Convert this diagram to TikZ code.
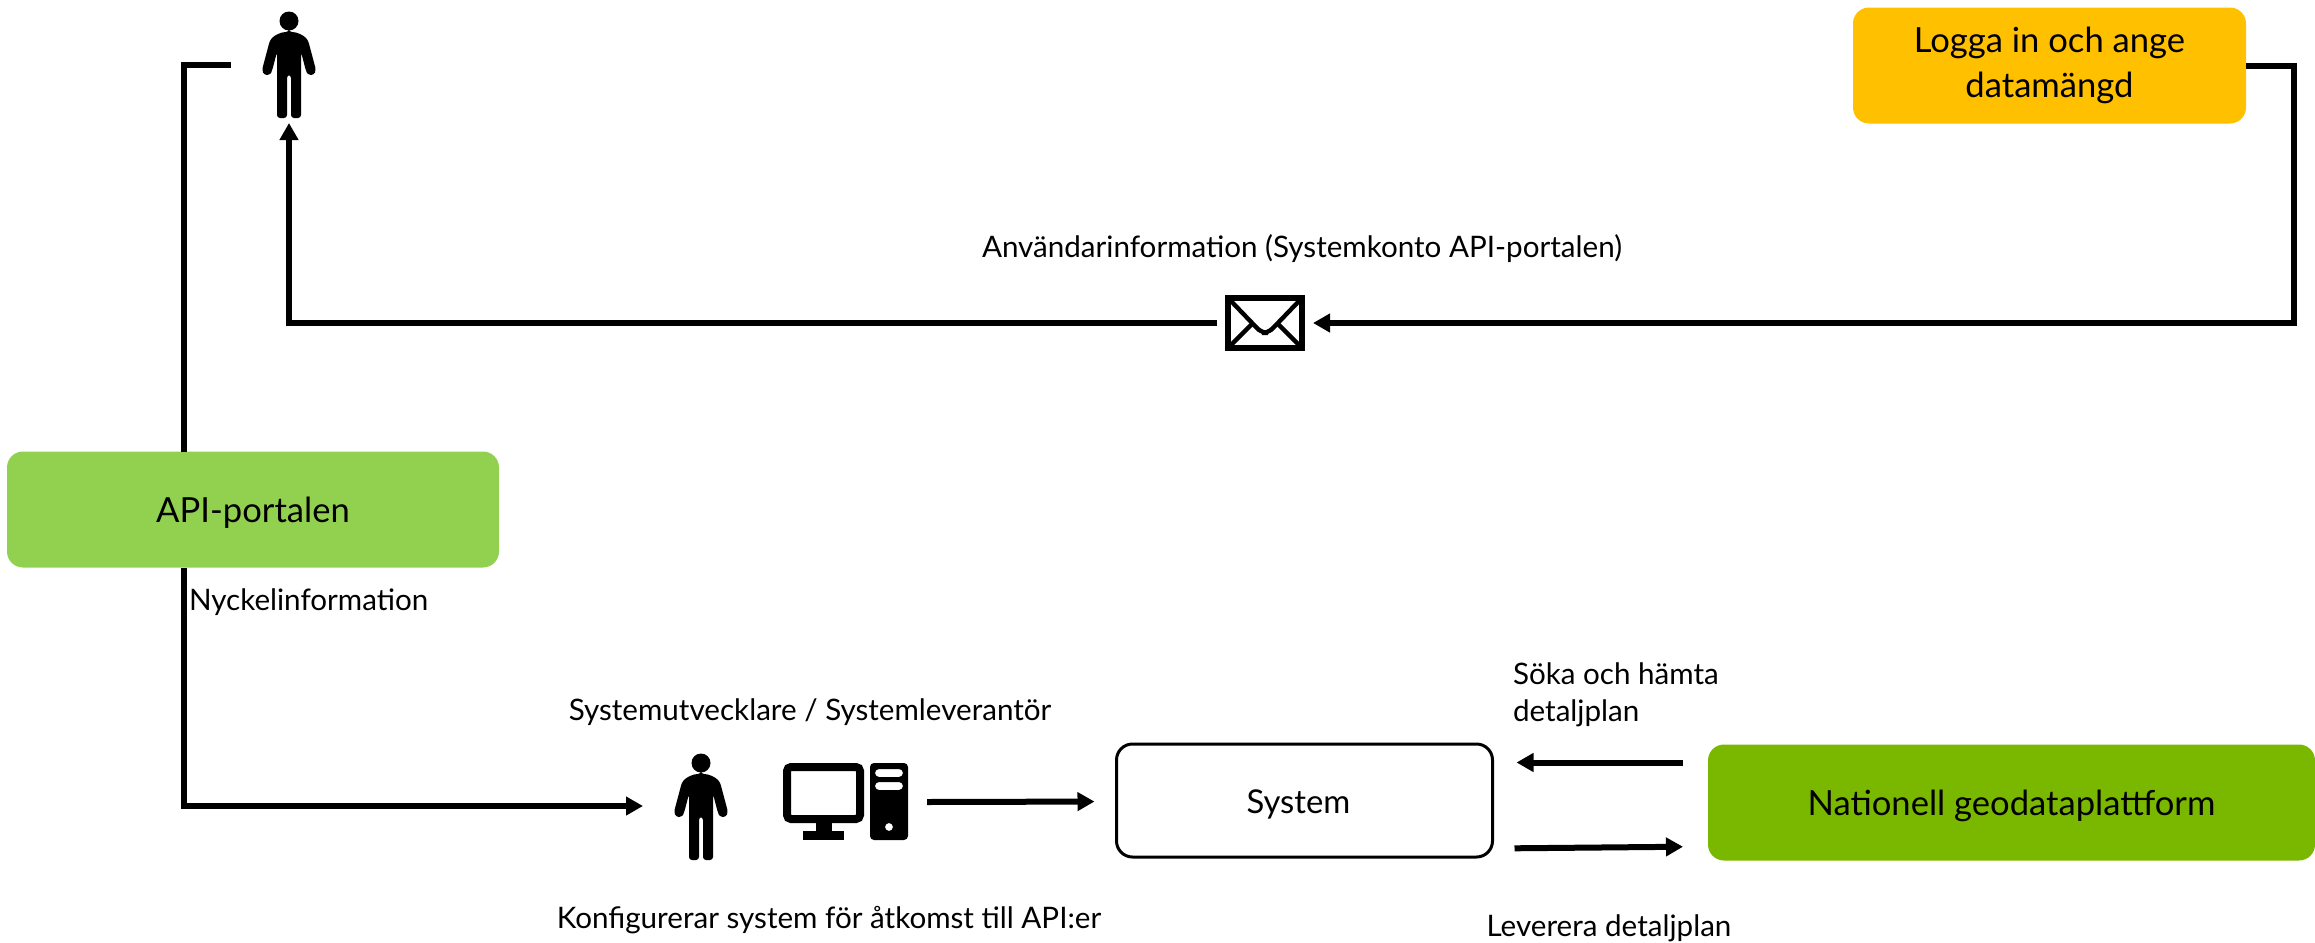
\documentclass[tikz,border=0pt]{standalone}
\usepackage{fontspec}
\setmainfont{Lato}
\usetikzlibrary{arrows.meta}

\tikzset{
    ruta/.style={rounded corners=8pt, minimum height=58pt, inner sep=0pt, outer sep=0pt, align=center, font=\fontsize{17.3}{22.5}\selectfont, execute at begin node=\rule{0pt}{16pt}},
    ikon/.style={inner sep=0pt, outer sep=0pt},
    etikett/.style={inner sep=0pt, outer sep=0pt, align=left, font=\fontsize{14.8}{18.5}\selectfont},
    linje/.style={line width=3pt},
    pil/.style={line width=3pt, -{Triangle[length=8.5pt,width=9pt]}},
    person/.pic={
        \fill (0,-49) circle (9.5);
        \fill[rounded corners=1.5pt] (0,-38) .. controls (-8,-38) and (-14,-35) .. (-19,-30) -- (-27,0) -- (-25,5) -- (-19,5) -- (-17,1) -- (-12,-18) -- (-12,48) -- (-2,48) -- (-2,5) -- (2,5) -- (2,48) -- (12,48) -- (12,-18) -- (17,1) -- (19,5) -- (25,5) -- (27,0) -- (19,-30) .. controls (14,-35) and (8,-38) .. (0,-38) -- cycle;
    },
    dator/.pic={
        \draw[line width=4pt, rounded corners=2pt] (-58,-35) rectangle (15,17);
        \fill (-29,21) rectangle (-13,32);
        \fill (-42,29) rectangle (-1,38);
        \fill[even odd rule, rounded corners=2pt] (25,-39) rectangle (63,38) (30,-33) rectangle (58,-25) (30,-20) rectangle (58,-12) (44,25) circle (4);
    },
    brev/.pic={
        \draw[line width=3pt] (-37,-25) rectangle (37,25);
        \draw[line width=2.2pt, rounded corners=3pt] (-35,-23) -- (-10,3) -- (-3,10) -- (3,10) -- (10,3) -- (35,-23);
        \draw[line width=2.2pt] (-12,0) -- (-35,23);
        \draw[line width=2.2pt] (12,0) -- (35,23);
    },
}

\begin{document}
\begin{tikzpicture}[x=0.5pt, y=-0.5pt]
    \useasboundingbox (0,0) rectangle (2315,943);

    \node[ruta, minimum width=196.5pt, fill={rgb,255:red,255;green,192;blue,0}] (loggain) at (2049.5,65.5) {Logga in och ange\\datamängd};
    \node[ruta, minimum width=246pt, fill={rgb,255:red,146;green,208;blue,80}] (apiportalen) at (253,509.5) {API-portalen};
    \node[ruta, minimum width=303.5pt, fill={rgb,255:red,122;green,184;blue,0}] (geodata) at (2011.5,802.5) {Nationell geodataplattform};
    \node[ruta, draw, line width=1.5pt, minimum width=188pt, minimum height=56.5pt, font=\fontsize{16.4}{20}\selectfont] (system) at (1304.5,800.5) {System\hspace*{6pt}};

    \node[ikon, minimum width=58pt, minimum height=58pt] (anvandare) at (289,65) {};
    \pic at (289,70) {person};
    \node[ikon, minimum width=58pt, minimum height=40pt] (utvecklare) at (701,806) {};
    \pic at (701,812) {person};
    \node[ikon, minimum width=82pt, minimum height=40pt] (datorn) at (845,802) {};
    \pic at (845,802) {dator};
    \node[ikon, minimum width=48pt, minimum height=30pt] (brevet) at (1265,323) {};
    \pic at (1265,323) {brev};

    \draw[linje] ([xshift=88.5pt]apiportalen.north west) |- (anvandare.west);
    \draw[pil] (loggain.east) -- ++(48,0) |- (brevet.east);
    \draw[pil] (brevet.west) -| (anvandare.south);
    \draw[pil] ([xshift=88.5pt]apiportalen.south west) |- (utvecklare.west);
    \draw[pil, shorten >=11pt] (datorn.east) -- ([yshift=-0.5pt]system.west);
    \draw[pil, shorten <=12.5pt, shorten >=12pt] ([yshift=20pt]geodata.west) -- ([yshift=19pt]system.east);
    \draw[pil, shorten <=11pt, shorten >=12.5pt] ([yshift=-24pt]system.east) -- ([yshift=-22pt]geodata.west);

    \node[etikett] (kontotext) at (1302,248.5) {Användarinformation (Systemkonto API-portalen)};
    \node[etikett, anchor=west] (nyckeltext) at (189,602) {Nyckelinformation};
    \node[etikett] (utvecklartext) at (810,712) {Systemutvecklare / Systemleverantör};
    \node[etikett] (konfigtext) at (829,920) {Konfigurerar system för åtkomst till API:er};
    \node[etikett, anchor=west] (sokatext) at (1513,695) {Söka och hämta\\detaljplan};
    \node[etikett] (levereratext) at (1609,928) {Leverera detaljplan};
\end{tikzpicture}
\end{document}
